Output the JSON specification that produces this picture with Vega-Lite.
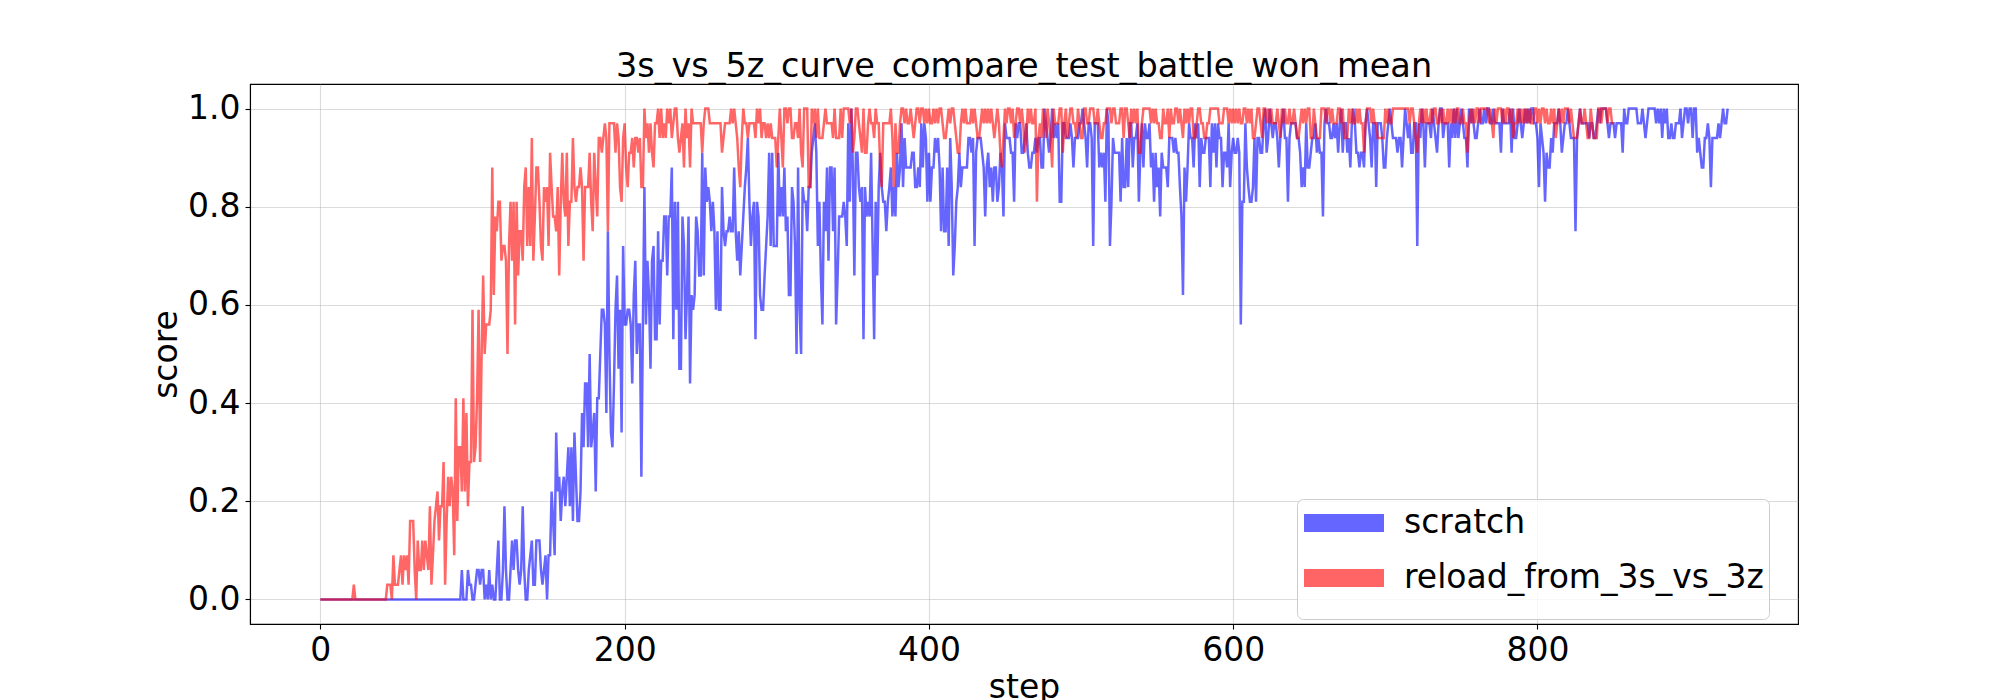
{
"$schema": "https://vega.github.io/schema/vega-lite/v6.json",
"width": 1548, "height": 540,
"autosize": {"type": "none"},
"padding": {"left": 250, "top": 84, "right": 202, "bottom": 76},
"background": "white",
"title": {"text": "3s_vs_5z_curve_compare_test_battle_won_mean", "fontSize": 33.5, "font": "DejaVu Sans", "fontWeight": "normal", "color": "black", "anchor": "middle", "baseline": "alphabetic", "offset": -26},
"config": {
"font": "DejaVu Sans",
"view": {"stroke": "black", "strokeWidth": 1.1},
"axis": {"labelFont": "DejaVu Sans", "labelFontSize": 33, "labelColor": "black", "titleFont": "DejaVu Sans", "titleFontSize": 33, "titleFontWeight": "normal", "titleColor": "black", "domainColor": "black", "domainWidth": 1.1, "tickColor": "black", "tickWidth": 1.1, "tickSize": 5, "labelPadding": 5, "gridColor": "#b0b0b0", "gridOpacity": 0.45, "gridWidth": 1.1}
},
"data": {"values": [
{"step":0,"a":0,"b":0},{"step":1,"a":0,"b":0},{"step":2,"a":0,"b":0},{"step":3,"a":0,"b":0},{"step":4,"a":0,"b":0},{"step":5,"a":0,"b":0},{"step":6,"a":0,"b":0},{"step":7,"a":0,"b":0},{"step":8,"a":0,"b":0},{"step":9,"a":0,"b":0},
{"step":10,"a":0,"b":0},{"step":11,"a":0,"b":0},{"step":12,"a":0,"b":0},{"step":13,"a":0,"b":0},{"step":14,"a":0,"b":0},{"step":15,"a":0,"b":0},{"step":16,"a":0,"b":0},{"step":17,"a":0,"b":0},{"step":18,"a":0,"b":0},{"step":19,"a":0,"b":0},
{"step":20,"a":0,"b":0},{"step":21,"a":0,"b":0},{"step":22,"a":0,"b":0.03},{"step":23,"a":0,"b":0},{"step":24,"a":0,"b":0},{"step":25,"a":0,"b":0},{"step":26,"a":0,"b":0},{"step":27,"a":0,"b":0},{"step":28,"a":0,"b":0},{"step":29,"a":0,"b":0},
{"step":30,"a":0,"b":0},{"step":31,"a":0,"b":0},{"step":32,"a":0,"b":0},{"step":33,"a":0,"b":0},{"step":34,"a":0,"b":0},{"step":35,"a":0,"b":0},{"step":36,"a":0,"b":0},{"step":37,"a":0,"b":0},{"step":38,"a":0,"b":0},{"step":39,"a":0,"b":0},
{"step":40,"a":0,"b":0},{"step":41,"a":0,"b":0},{"step":42,"a":0,"b":0},{"step":43,"a":0,"b":0},{"step":44,"a":0,"b":0.03},{"step":45,"a":0,"b":0.03},{"step":46,"a":0,"b":0.03},{"step":47,"a":0,"b":0},{"step":48,"a":0,"b":0.09},{"step":49,"a":0,"b":0.03},
{"step":50,"a":0,"b":0.03},{"step":51,"a":0,"b":0.03},{"step":52,"a":0,"b":0.06},{"step":53,"a":0,"b":0.09},{"step":54,"a":0,"b":0.03},{"step":55,"a":0,"b":0.09},{"step":56,"a":0,"b":0.06},{"step":57,"a":0,"b":0.09},{"step":58,"a":0,"b":0.03},{"step":59,"a":0,"b":0.16},
{"step":60,"a":0,"b":0.16},{"step":61,"a":0,"b":0.16},{"step":62,"a":0,"b":0.06},{"step":63,"a":0,"b":0},{"step":64,"a":0,"b":0.12},{"step":65,"a":0,"b":0.06},{"step":66,"a":0,"b":0.06},{"step":67,"a":0,"b":0.12},{"step":68,"a":0,"b":0.06},{"step":69,"a":0,"b":0.12},
{"step":70,"a":0,"b":0.09},{"step":71,"a":0,"b":0.06},{"step":72,"a":0,"b":0.19},{"step":73,"a":0,"b":0.03},{"step":74,"a":0,"b":0.09},{"step":75,"a":0,"b":0.16},{"step":76,"a":0,"b":0.19},{"step":77,"a":0,"b":0.22},{"step":78,"a":0,"b":0.12},{"step":79,"a":0,"b":0.19},
{"step":80,"a":0,"b":0.19},{"step":81,"a":0,"b":0.28},{"step":82,"a":0,"b":0.03},{"step":83,"a":0,"b":0.16},{"step":84,"a":0,"b":0.25},{"step":85,"a":0,"b":0.19},{"step":86,"a":0,"b":0.25},{"step":87,"a":0,"b":0.22},{"step":88,"a":0,"b":0.09},{"step":89,"a":0,"b":0.41},
{"step":90,"a":0,"b":0.16},{"step":91,"a":0,"b":0.31},{"step":92,"a":0,"b":0.31},{"step":93,"a":0.06,"b":0.22},{"step":94,"a":0,"b":0.41},{"step":95,"a":0,"b":0.22},{"step":96,"a":0,"b":0.38},{"step":97,"a":0.06,"b":0.19},{"step":98,"a":0.03,"b":0.28},{"step":99,"a":0.03,"b":0.28},
{"step":100,"a":0,"b":0.59},{"step":101,"a":0,"b":0.28},{"step":102,"a":0.03,"b":0.31},{"step":103,"a":0.06,"b":0.41},{"step":104,"a":0.06,"b":0.59},{"step":105,"a":0.03,"b":0.28},{"step":106,"a":0.06,"b":0.5},{"step":107,"a":0.06,"b":0.66},{"step":108,"a":0,"b":0.5},{"step":109,"a":0.03,"b":0.56},
{"step":110,"a":0,"b":0.56},{"step":111,"a":0.06,"b":0.56},{"step":112,"a":0,"b":0.59},{"step":113,"a":0.03,"b":0.88},{"step":114,"a":0,"b":0.62},{"step":115,"a":0,"b":0.78},{"step":116,"a":0.06,"b":0.75},{"step":117,"a":0.12,"b":0.81},{"step":118,"a":0,"b":0.81},{"step":119,"a":0,"b":0.69},
{"step":120,"a":0.06,"b":0.72},{"step":121,"a":0.19,"b":0.72},{"step":122,"a":0.06,"b":0.69},{"step":123,"a":0,"b":0.5},{"step":124,"a":0,"b":0.72},{"step":125,"a":0.06,"b":0.81},{"step":126,"a":0.12,"b":0.69},{"step":127,"a":0.06,"b":0.81},{"step":128,"a":0.12,"b":0.56},{"step":129,"a":0.12,"b":0.81},
{"step":130,"a":0.06,"b":0.66},{"step":131,"a":0.03,"b":0.75},{"step":132,"a":0.06,"b":0.75},{"step":133,"a":0.19,"b":0.69},{"step":134,"a":0.06,"b":0.84},{"step":135,"a":0,"b":0.88},{"step":136,"a":0,"b":0.72},{"step":137,"a":0.06,"b":0.84},{"step":138,"a":0.09,"b":0.72},{"step":139,"a":0.12,"b":0.94},
{"step":140,"a":0.03,"b":0.69},{"step":141,"a":0.03,"b":0.78},{"step":142,"a":0.12,"b":0.88},{"step":143,"a":0.12,"b":0.88},{"step":144,"a":0.12,"b":0.81},{"step":145,"a":0.06,"b":0.72},{"step":146,"a":0.03,"b":0.69},{"step":147,"a":0.06,"b":0.84},{"step":148,"a":0.09,"b":0.81},{"step":149,"a":0,"b":0.84},
{"step":150,"a":0.09,"b":0.72},{"step":151,"a":0.09,"b":0.91},{"step":152,"a":0.22,"b":0.84},{"step":153,"a":0.16,"b":0.78},{"step":154,"a":0.09,"b":0.78},{"step":155,"a":0.34,"b":0.75},{"step":156,"a":0.22,"b":0.84},{"step":157,"a":0.25,"b":0.66},{"step":158,"a":0.16,"b":0.81},{"step":159,"a":0.22,"b":0.91},
{"step":160,"a":0.25,"b":0.81},{"step":161,"a":0.19,"b":0.78},{"step":162,"a":0.25,"b":0.91},{"step":163,"a":0.31,"b":0.72},{"step":164,"a":0.19,"b":0.81},{"step":165,"a":0.31,"b":0.81},{"step":166,"a":0.16,"b":0.94},{"step":167,"a":0.34,"b":0.84},{"step":168,"a":0.25,"b":0.81},{"step":169,"a":0.16,"b":0.84},
{"step":170,"a":0.16,"b":0.84},{"step":171,"a":0.22,"b":0.88},{"step":172,"a":0.38,"b":0.84},{"step":173,"a":0.31,"b":0.69},{"step":174,"a":0.44,"b":0.84},{"step":175,"a":0.44,"b":0.84},{"step":176,"a":0.31,"b":0.84},{"step":177,"a":0.5,"b":0.91},{"step":178,"a":0.31,"b":0.81},{"step":179,"a":0.34,"b":0.75},
{"step":180,"a":0.38,"b":0.91},{"step":181,"a":0.22,"b":0.84},{"step":182,"a":0.41,"b":0.78},{"step":183,"a":0.41,"b":0.94},{"step":184,"a":0.5,"b":0.94},{"step":185,"a":0.59,"b":0.91},{"step":186,"a":0.59,"b":0.94},{"step":187,"a":0.56,"b":0.97},{"step":188,"a":0.38,"b":0.94},{"step":189,"a":0.75,"b":0.75},
{"step":190,"a":0.5,"b":0.97},{"step":191,"a":0.34,"b":0.97},{"step":192,"a":0.31,"b":0.97},{"step":193,"a":0.44,"b":0.97},{"step":194,"a":0.59,"b":0.91},{"step":195,"a":0.66,"b":0.97},{"step":196,"a":0.47,"b":0.94},{"step":197,"a":0.59,"b":0.84},{"step":198,"a":0.34,"b":0.81},{"step":199,"a":0.72,"b":0.94},
{"step":200,"a":0.56,"b":0.97},{"step":201,"a":0.56,"b":0.88},{"step":202,"a":0.59,"b":0.84},{"step":203,"a":0.59,"b":0.91},{"step":204,"a":0.56,"b":0.91},{"step":205,"a":0.44,"b":0.94},{"step":206,"a":0.62,"b":0.88},{"step":207,"a":0.69,"b":0.94},{"step":208,"a":0.5,"b":0.94},{"step":209,"a":0.56,"b":0.91},
{"step":210,"a":0.56,"b":0.94},{"step":211,"a":0.25,"b":0.84},{"step":212,"a":0.56,"b":0.84},{"step":213,"a":0.84,"b":1},{"step":214,"a":0.56,"b":0.94},{"step":215,"a":0.69,"b":0.97},{"step":216,"a":0.62,"b":0.91},{"step":217,"a":0.47,"b":0.97},{"step":218,"a":0.69,"b":0.91},{"step":219,"a":0.72,"b":0.88},
{"step":220,"a":0.53,"b":0.97},{"step":221,"a":0.53,"b":0.97},{"step":222,"a":0.75,"b":1},{"step":223,"a":0.56,"b":0.94},{"step":224,"a":0.69,"b":1},{"step":225,"a":0.69,"b":0.94},{"step":226,"a":0.78,"b":0.97},{"step":227,"a":0.78,"b":0.94},{"step":228,"a":0.66,"b":1},{"step":229,"a":0.78,"b":0.97},
{"step":230,"a":0.78,"b":1},{"step":231,"a":0.88,"b":0.94},{"step":232,"a":0.53,"b":0.97},{"step":233,"a":0.81,"b":1},{"step":234,"a":0.59,"b":1},{"step":235,"a":0.81,"b":0.94},{"step":236,"a":0.47,"b":0.91},{"step":237,"a":0.47,"b":0.94},{"step":238,"a":0.78,"b":0.97},{"step":239,"a":0.72,"b":0.88},
{"step":240,"a":0.53,"b":1},{"step":241,"a":0.62,"b":0.94},{"step":242,"a":0.78,"b":0.97},{"step":243,"a":0.44,"b":0.88},{"step":244,"a":0.62,"b":1},{"step":245,"a":0.59,"b":0.97},{"step":246,"a":0.62,"b":0.97},{"step":247,"a":0.78,"b":0.97},{"step":248,"a":0.75,"b":0.97},{"step":249,"a":0.66,"b":0.97},
{"step":250,"a":0.66,"b":0.97},{"step":251,"a":0.91,"b":0.91},{"step":252,"a":0.66,"b":0.97},{"step":253,"a":0.88,"b":1},{"step":254,"a":0.81,"b":1},{"step":255,"a":0.84,"b":1},{"step":256,"a":0.81,"b":0.97},{"step":257,"a":0.75,"b":0.97},{"step":258,"a":0.81,"b":0.97},{"step":259,"a":0.75,"b":0.97},
{"step":260,"a":0.59,"b":0.97},{"step":261,"a":0.75,"b":0.97},{"step":262,"a":0.59,"b":0.97},{"step":263,"a":0.59,"b":0.97},{"step":264,"a":0.84,"b":0.91},{"step":265,"a":0.75,"b":0.94},{"step":266,"a":0.72,"b":0.97},{"step":267,"a":0.75,"b":0.97},{"step":268,"a":0.75,"b":0.97},{"step":269,"a":0.78,"b":0.97},
{"step":270,"a":0.75,"b":1},{"step":271,"a":0.75,"b":0.97},{"step":272,"a":0.88,"b":1},{"step":273,"a":0.75,"b":0.97},{"step":274,"a":0.69,"b":0.94},{"step":275,"a":0.75,"b":0.88},{"step":276,"a":0.66,"b":0.84},{"step":277,"a":0.72,"b":0.94},{"step":278,"a":0.78,"b":1},{"step":279,"a":0.84,"b":0.97},
{"step":280,"a":0.88,"b":0.97},{"step":281,"a":0.94,"b":0.94},{"step":282,"a":0.81,"b":0.97},{"step":283,"a":0.72,"b":0.97},{"step":284,"a":0.78,"b":0.97},{"step":285,"a":0.81,"b":0.97},{"step":286,"a":0.53,"b":0.94},{"step":287,"a":0.81,"b":1},{"step":288,"a":0.78,"b":0.97},{"step":289,"a":0.62,"b":1},
{"step":290,"a":0.59,"b":0.94},{"step":291,"a":0.59,"b":0.97},{"step":292,"a":0.66,"b":0.97},{"step":293,"a":0.72,"b":0.94},{"step":294,"a":0.78,"b":0.97},{"step":295,"a":0.91,"b":0.94},{"step":296,"a":0.72,"b":0.97},{"step":297,"a":0.91,"b":0.94},{"step":298,"a":0.72,"b":0.94},{"step":299,"a":0.72,"b":0.94},
{"step":300,"a":0.72,"b":0.88},{"step":301,"a":0.91,"b":0.94},{"step":302,"a":0.78,"b":1},{"step":303,"a":0.84,"b":0.94},{"step":304,"a":0.78,"b":0.88},{"step":305,"a":0.88,"b":1},{"step":306,"a":0.75,"b":1},{"step":307,"a":0.78,"b":0.97},{"step":308,"a":0.62,"b":1},{"step":309,"a":0.62,"b":1},
{"step":310,"a":0.84,"b":0.94},{"step":311,"a":0.81,"b":0.94},{"step":312,"a":0.72,"b":0.97},{"step":313,"a":0.5,"b":0.97},{"step":314,"a":0.88,"b":0.94},{"step":315,"a":0.59,"b":1},{"step":316,"a":0.5,"b":0.91},{"step":317,"a":0.84,"b":0.88},{"step":318,"a":0.81,"b":1},{"step":319,"a":0.81,"b":1},
{"step":320,"a":0.75,"b":1},{"step":321,"a":0.84,"b":0.84},{"step":322,"a":0.84,"b":0.84},{"step":323,"a":0.91,"b":1},{"step":324,"a":0.94,"b":0.97},{"step":325,"a":0.97,"b":1},{"step":326,"a":0.91,"b":0.94},{"step":327,"a":0.72,"b":1},{"step":328,"a":0.81,"b":0.94},{"step":329,"a":0.66,"b":0.94},
{"step":330,"a":0.56,"b":0.94},{"step":331,"a":0.81,"b":0.97},{"step":332,"a":0.75,"b":1},{"step":333,"a":0.88,"b":0.97},{"step":334,"a":0.69,"b":0.97},{"step":335,"a":0.88,"b":0.97},{"step":336,"a":0.88,"b":0.97},{"step":337,"a":0.75,"b":0.94},{"step":338,"a":0.88,"b":1},{"step":339,"a":0.56,"b":0.94},
{"step":340,"a":0.66,"b":0.94},{"step":341,"a":0.78,"b":0.94},{"step":342,"a":0.78,"b":1},{"step":343,"a":0.78,"b":0.94},{"step":344,"a":0.81,"b":1},{"step":345,"a":0.78,"b":1},{"step":346,"a":0.72,"b":1},{"step":347,"a":0.97,"b":1},{"step":348,"a":0.81,"b":0.97},{"step":349,"a":1,"b":1},
{"step":350,"a":0.88,"b":0.91},{"step":351,"a":0.66,"b":0.94},{"step":352,"a":0.91,"b":1},{"step":353,"a":0.91,"b":1},{"step":354,"a":0.84,"b":0.97},{"step":355,"a":0.81,"b":0.94},{"step":356,"a":0.84,"b":0.91},{"step":357,"a":0.53,"b":1},{"step":358,"a":0.84,"b":0.91},{"step":359,"a":0.78,"b":0.91},
{"step":360,"a":0.81,"b":0.97},{"step":361,"a":0.78,"b":1},{"step":362,"a":0.91,"b":0.97},{"step":363,"a":0.72,"b":0.97},{"step":364,"a":0.53,"b":0.94},{"step":365,"a":0.81,"b":1},{"step":366,"a":0.66,"b":0.97},{"step":367,"a":0.84,"b":0.97},{"step":368,"a":0.91,"b":0.88},{"step":369,"a":0.84,"b":0.84},
{"step":370,"a":0.81,"b":0.97},{"step":371,"a":0.81,"b":0.97},{"step":372,"a":0.75,"b":0.97},{"step":373,"a":0.81,"b":0.97},{"step":374,"a":0.84,"b":0.97},{"step":375,"a":0.88,"b":1},{"step":376,"a":0.78,"b":0.94},{"step":377,"a":0.84,"b":0.84},{"step":378,"a":0.78,"b":0.97},{"step":379,"a":0.91,"b":0.91},
{"step":380,"a":0.84,"b":0.91},{"step":381,"a":0.88,"b":0.97},{"step":382,"a":0.97,"b":1},{"step":383,"a":0.84,"b":1},{"step":384,"a":0.94,"b":0.97},{"step":385,"a":0.88,"b":1},{"step":386,"a":0.88,"b":0.97},{"step":387,"a":0.88,"b":0.97},{"step":388,"a":0.88,"b":1},{"step":389,"a":0.91,"b":0.97},
{"step":390,"a":0.91,"b":0.94},{"step":391,"a":0.84,"b":0.97},{"step":392,"a":0.84,"b":1},{"step":393,"a":0.88,"b":1},{"step":394,"a":0.84,"b":0.97},{"step":395,"a":0.97,"b":1},{"step":396,"a":0.88,"b":1},{"step":397,"a":0.97,"b":0.97},{"step":398,"a":0.94,"b":1},{"step":399,"a":0.81,"b":0.97},
{"step":400,"a":0.91,"b":1},{"step":401,"a":0.81,"b":0.97},{"step":402,"a":0.88,"b":0.97},{"step":403,"a":0.88,"b":1},{"step":404,"a":0.94,"b":0.97},{"step":405,"a":0.91,"b":1},{"step":406,"a":0.94,"b":0.97},{"step":407,"a":0.88,"b":1},{"step":408,"a":0.75,"b":1},{"step":409,"a":0.88,"b":0.97},
{"step":410,"a":0.75,"b":0.94},{"step":411,"a":0.75,"b":0.94},{"step":412,"a":0.88,"b":0.97},{"step":413,"a":0.72,"b":1},{"step":414,"a":0.94,"b":0.97},{"step":415,"a":0.84,"b":1},{"step":416,"a":0.66,"b":1},{"step":417,"a":0.72,"b":0.97},{"step":418,"a":0.81,"b":0.94},{"step":419,"a":0.84,"b":0.91},
{"step":420,"a":0.91,"b":0.91},{"step":421,"a":0.84,"b":0.97},{"step":422,"a":0.88,"b":1},{"step":423,"a":0.88,"b":0.97},{"step":424,"a":0.88,"b":1},{"step":425,"a":0.88,"b":0.97},{"step":426,"a":0.94,"b":0.97},{"step":427,"a":0.94,"b":0.97},{"step":428,"a":0.91,"b":1},{"step":429,"a":0.94,"b":0.97},
{"step":430,"a":0.72,"b":1},{"step":431,"a":0.91,"b":0.97},{"step":432,"a":0.94,"b":0.94},{"step":433,"a":0.94,"b":0.94},{"step":434,"a":0.94,"b":0.97},{"step":435,"a":0.91,"b":1},{"step":436,"a":0.88,"b":0.97},{"step":437,"a":0.78,"b":1},{"step":438,"a":0.88,"b":0.97},{"step":439,"a":0.91,"b":1},
{"step":440,"a":0.84,"b":0.97},{"step":441,"a":0.88,"b":1},{"step":442,"a":0.81,"b":0.97},{"step":443,"a":0.88,"b":0.94},{"step":444,"a":0.88,"b":0.97},{"step":445,"a":0.81,"b":1},{"step":446,"a":0.84,"b":0.97},{"step":447,"a":0.91,"b":0.91},{"step":448,"a":0.88,"b":0.88},{"step":449,"a":0.78,"b":0.94},
{"step":450,"a":0.97,"b":1},{"step":451,"a":0.94,"b":0.97},{"step":452,"a":0.94,"b":1},{"step":453,"a":0.94,"b":1},{"step":454,"a":0.91,"b":0.97},{"step":455,"a":0.91,"b":1},{"step":456,"a":0.81,"b":0.94},{"step":457,"a":0.97,"b":0.97},{"step":458,"a":0.94,"b":1},{"step":459,"a":0.97,"b":1},
{"step":460,"a":0.97,"b":0.97},{"step":461,"a":0.91,"b":1},{"step":462,"a":0.91,"b":0.97},{"step":463,"a":0.94,"b":0.91},{"step":464,"a":0.97,"b":0.94},{"step":465,"a":0.91,"b":1},{"step":466,"a":0.88,"b":0.97},{"step":467,"a":0.88,"b":1},{"step":468,"a":0.91,"b":0.97},{"step":469,"a":0.91,"b":0.97},
{"step":470,"a":0.94,"b":1},{"step":471,"a":0.91,"b":0.81},{"step":472,"a":0.94,"b":0.94},{"step":473,"a":0.94,"b":0.97},{"step":474,"a":0.88,"b":0.94},{"step":475,"a":0.88,"b":1},{"step":476,"a":1,"b":0.97},{"step":477,"a":0.97,"b":0.94},{"step":478,"a":0.94,"b":1},{"step":479,"a":0.91,"b":0.97},
{"step":480,"a":0.94,"b":0.94},{"step":481,"a":1,"b":0.88},{"step":482,"a":0.94,"b":1},{"step":483,"a":0.97,"b":0.97},{"step":484,"a":0.94,"b":0.97},{"step":485,"a":0.97,"b":0.97},{"step":486,"a":0.81,"b":1},{"step":487,"a":0.81,"b":1},{"step":488,"a":0.97,"b":0.91},{"step":489,"a":0.97,"b":0.97},
{"step":490,"a":0.94,"b":1},{"step":491,"a":0.94,"b":0.94},{"step":492,"a":0.94,"b":0.97},{"step":493,"a":0.97,"b":1},{"step":494,"a":0.94,"b":1},{"step":495,"a":0.88,"b":0.97},{"step":496,"a":0.94,"b":0.97},{"step":497,"a":0.94,"b":0.94},{"step":498,"a":0.94,"b":1},{"step":499,"a":0.97,"b":0.97},
{"step":500,"a":0.97,"b":0.94},{"step":501,"a":1,"b":0.94},{"step":502,"a":0.97,"b":1},{"step":503,"a":0.94,"b":1},{"step":504,"a":0.88,"b":0.97},{"step":505,"a":0.97,"b":0.97},{"step":506,"a":0.97,"b":1},{"step":507,"a":0.94,"b":1},{"step":508,"a":0.72,"b":1},{"step":509,"a":0.97,"b":0.97},
{"step":510,"a":0.97,"b":0.97},{"step":511,"a":0.97,"b":1},{"step":512,"a":0.88,"b":0.97},{"step":513,"a":0.91,"b":0.94},{"step":514,"a":0.88,"b":0.94},{"step":515,"a":0.91,"b":0.97},{"step":516,"a":0.81,"b":0.97},{"step":517,"a":1,"b":1},{"step":518,"a":0.97,"b":1},{"step":519,"a":0.72,"b":1},
{"step":520,"a":0.81,"b":0.97},{"step":521,"a":0.94,"b":1},{"step":522,"a":0.91,"b":1},{"step":523,"a":0.91,"b":0.97},{"step":524,"a":0.91,"b":0.97},{"step":525,"a":0.91,"b":0.97},{"step":526,"a":0.81,"b":1},{"step":527,"a":0.94,"b":1},{"step":528,"a":0.84,"b":0.94},{"step":529,"a":0.84,"b":1},
{"step":530,"a":0.94,"b":1},{"step":531,"a":0.84,"b":0.97},{"step":532,"a":0.97,"b":0.94},{"step":533,"a":0.97,"b":1},{"step":534,"a":0.88,"b":0.97},{"step":535,"a":0.94,"b":1},{"step":536,"a":0.94,"b":0.97},{"step":537,"a":0.97,"b":1},{"step":538,"a":0.81,"b":0.91},{"step":539,"a":0.91,"b":0.91},
{"step":540,"a":0.97,"b":0.97},{"step":541,"a":0.88,"b":1},{"step":542,"a":0.97,"b":1},{"step":543,"a":0.94,"b":1},{"step":544,"a":0.94,"b":1},{"step":545,"a":0.97,"b":1},{"step":546,"a":0.88,"b":0.97},{"step":547,"a":0.91,"b":1},{"step":548,"a":0.81,"b":0.97},{"step":549,"a":0.91,"b":1},
{"step":550,"a":0.84,"b":0.97},{"step":551,"a":0.88,"b":0.97},{"step":552,"a":0.78,"b":0.94},{"step":553,"a":0.91,"b":0.94},{"step":554,"a":0.88,"b":1},{"step":555,"a":0.88,"b":0.97},{"step":556,"a":0.88,"b":0.97},{"step":557,"a":0.84,"b":1},{"step":558,"a":0.94,"b":0.94},{"step":559,"a":0.94,"b":1},
{"step":560,"a":0.94,"b":0.97},{"step":561,"a":0.91,"b":0.97},{"step":562,"a":0.94,"b":1},{"step":563,"a":0.91,"b":1},{"step":564,"a":0.91,"b":0.97},{"step":565,"a":0.84,"b":1},{"step":566,"a":0.78,"b":0.97},{"step":567,"a":0.62,"b":0.94},{"step":568,"a":0.88,"b":1},{"step":569,"a":0.81,"b":0.97},
{"step":570,"a":0.88,"b":1},{"step":571,"a":0.97,"b":0.97},{"step":572,"a":0.94,"b":1},{"step":573,"a":0.94,"b":1},{"step":574,"a":0.88,"b":0.94},{"step":575,"a":0.97,"b":0.94},{"step":576,"a":0.94,"b":0.97},{"step":577,"a":0.97,"b":1},{"step":578,"a":0.84,"b":1},{"step":579,"a":0.94,"b":0.97},
{"step":580,"a":0.91,"b":0.97},{"step":581,"a":0.91,"b":0.94},{"step":582,"a":0.94,"b":0.94},{"step":583,"a":0.94,"b":0.97},{"step":584,"a":0.94,"b":0.97},{"step":585,"a":0.84,"b":1},{"step":586,"a":0.97,"b":1},{"step":587,"a":0.91,"b":1},{"step":588,"a":0.97,"b":1},{"step":589,"a":0.88,"b":1},
{"step":590,"a":0.97,"b":1},{"step":591,"a":0.94,"b":0.97},{"step":592,"a":0.94,"b":0.97},{"step":593,"a":0.84,"b":0.97},{"step":594,"a":0.91,"b":1},{"step":595,"a":0.91,"b":1},{"step":596,"a":0.88,"b":1},{"step":597,"a":0.97,"b":0.97},{"step":598,"a":0.84,"b":1},{"step":599,"a":0.91,"b":0.97},
{"step":600,"a":0.94,"b":1},{"step":601,"a":0.91,"b":0.97},{"step":602,"a":0.91,"b":1},{"step":603,"a":0.94,"b":0.97},{"step":604,"a":0.91,"b":1},{"step":605,"a":0.56,"b":0.97},{"step":606,"a":0.81,"b":0.97},{"step":607,"a":0.81,"b":1},{"step":608,"a":0.97,"b":1},{"step":609,"a":0.88,"b":0.97},
{"step":610,"a":0.84,"b":1},{"step":611,"a":0.81,"b":0.97},{"step":612,"a":0.81,"b":1},{"step":613,"a":0.84,"b":0.94},{"step":614,"a":0.94,"b":0.94},{"step":615,"a":0.81,"b":0.97},{"step":616,"a":0.94,"b":1},{"step":617,"a":0.94,"b":1},{"step":618,"a":0.91,"b":0.97},{"step":619,"a":0.91,"b":0.94},
{"step":620,"a":0.97,"b":1},{"step":621,"a":1,"b":1},{"step":622,"a":0.91,"b":0.97},{"step":623,"a":0.94,"b":1},{"step":624,"a":1,"b":0.97},{"step":625,"a":0.97,"b":1},{"step":626,"a":0.94,"b":0.97},{"step":627,"a":0.97,"b":0.97},{"step":628,"a":0.97,"b":0.97},{"step":629,"a":0.94,"b":1},
{"step":630,"a":0.88,"b":0.97},{"step":631,"a":0.94,"b":0.94},{"step":632,"a":0.97,"b":1},{"step":633,"a":1,"b":0.97},{"step":634,"a":0.94,"b":1},{"step":635,"a":0.94,"b":0.97},{"step":636,"a":0.81,"b":0.97},{"step":637,"a":0.94,"b":1},{"step":638,"a":0.97,"b":0.97},{"step":639,"a":0.97,"b":0.97},
{"step":640,"a":0.97,"b":1},{"step":641,"a":0.97,"b":0.97},{"step":642,"a":0.94,"b":0.94},{"step":643,"a":0.94,"b":0.94},{"step":644,"a":0.91,"b":0.97},{"step":645,"a":0.84,"b":1},{"step":646,"a":0.88,"b":0.97},{"step":647,"a":0.84,"b":1},{"step":648,"a":0.97,"b":0.97},{"step":649,"a":0.88,"b":1},
{"step":650,"a":0.88,"b":1},{"step":651,"a":0.91,"b":0.94},{"step":652,"a":0.94,"b":0.94},{"step":653,"a":0.94,"b":1},{"step":654,"a":0.97,"b":0.97},{"step":655,"a":0.91,"b":0.94},{"step":656,"a":0.94,"b":0.94},{"step":657,"a":0.91,"b":0.94},{"step":658,"a":0.91,"b":1},{"step":659,"a":0.78,"b":1},
{"step":660,"a":0.97,"b":1},{"step":661,"a":1,"b":0.97},{"step":662,"a":0.97,"b":1},{"step":663,"a":0.97,"b":1},{"step":664,"a":0.94,"b":0.97},{"step":665,"a":0.94,"b":1},{"step":666,"a":0.97,"b":0.97},{"step":667,"a":0.94,"b":0.97},{"step":668,"a":0.97,"b":0.97},{"step":669,"a":0.91,"b":1},
{"step":670,"a":0.97,"b":1},{"step":671,"a":1,"b":0.97},{"step":672,"a":0.91,"b":1},{"step":673,"a":0.97,"b":0.94},{"step":674,"a":0.97,"b":0.94},{"step":675,"a":0.91,"b":0.94},{"step":676,"a":0.94,"b":1},{"step":677,"a":0.88,"b":0.97},{"step":678,"a":0.97,"b":1},{"step":679,"a":1,"b":0.97},
{"step":680,"a":0.97,"b":0.97},{"step":681,"a":0.91,"b":1},{"step":682,"a":0.91,"b":0.97},{"step":683,"a":0.88,"b":1},{"step":684,"a":0.91,"b":0.97},{"step":685,"a":0.91,"b":0.97},{"step":686,"a":0.88,"b":0.91},{"step":687,"a":0.97,"b":0.97},{"step":688,"a":1,"b":1},{"step":689,"a":0.97,"b":1},
{"step":690,"a":0.94,"b":1},{"step":691,"a":0.88,"b":0.97},{"step":692,"a":0.97,"b":1},{"step":693,"a":0.97,"b":0.97},{"step":694,"a":0.84,"b":0.97},{"step":695,"a":0.97,"b":0.94},{"step":696,"a":0.97,"b":0.94},{"step":697,"a":0.97,"b":0.94},{"step":698,"a":0.94,"b":0.94},{"step":699,"a":0.88,"b":0.94},
{"step":700,"a":0.88,"b":1},{"step":701,"a":0.94,"b":0.97},{"step":702,"a":0.97,"b":1},{"step":703,"a":1,"b":0.97},{"step":704,"a":0.97,"b":0.97},{"step":705,"a":0.94,"b":1},{"step":706,"a":0.94,"b":1},{"step":707,"a":0.94,"b":1},{"step":708,"a":0.91,"b":1},{"step":709,"a":0.94,"b":1},
{"step":710,"a":0.94,"b":1},{"step":711,"a":0.88,"b":1},{"step":712,"a":0.94,"b":1},{"step":713,"a":1,"b":1},{"step":714,"a":0.97,"b":1},{"step":715,"a":0.94,"b":1},{"step":716,"a":0.97,"b":0.97},{"step":717,"a":0.91,"b":1},{"step":718,"a":0.91,"b":1},{"step":719,"a":0.97,"b":0.97},
{"step":720,"a":0.97,"b":0.94},{"step":721,"a":0.72,"b":0.91},{"step":722,"a":0.97,"b":0.97},{"step":723,"a":0.94,"b":1},{"step":724,"a":1,"b":0.97},{"step":725,"a":0.97,"b":1},{"step":726,"a":0.88,"b":0.97},{"step":727,"a":0.97,"b":1},{"step":728,"a":0.97,"b":0.97},{"step":729,"a":0.97,"b":0.97},
{"step":730,"a":0.94,"b":1},{"step":731,"a":1,"b":0.97},{"step":732,"a":0.97,"b":1},{"step":733,"a":0.94,"b":1},{"step":734,"a":0.91,"b":0.97},{"step":735,"a":0.97,"b":0.97},{"step":736,"a":1,"b":1},{"step":737,"a":1,"b":0.97},{"step":738,"a":0.94,"b":1},{"step":739,"a":0.97,"b":0.97},
{"step":740,"a":0.97,"b":0.97},{"step":741,"a":0.97,"b":1},{"step":742,"a":0.88,"b":0.97},{"step":743,"a":0.97,"b":1},{"step":744,"a":0.94,"b":0.97},{"step":745,"a":1,"b":1},{"step":746,"a":0.94,"b":0.97},{"step":747,"a":1,"b":1},{"step":748,"a":0.94,"b":1},{"step":749,"a":0.97,"b":0.97},
{"step":750,"a":1,"b":0.97},{"step":751,"a":0.97,"b":1},{"step":752,"a":0.94,"b":0.97},{"step":753,"a":0.94,"b":0.97},{"step":754,"a":0.88,"b":0.91},{"step":755,"a":1,"b":0.97},{"step":756,"a":0.97,"b":1},{"step":757,"a":1,"b":0.97},{"step":758,"a":0.97,"b":1},{"step":759,"a":0.94,"b":0.97},
{"step":760,"a":0.94,"b":1},{"step":761,"a":0.97,"b":1},{"step":762,"a":1,"b":0.97},{"step":763,"a":0.97,"b":1},{"step":764,"a":0.97,"b":1},{"step":765,"a":1,"b":1},{"step":766,"a":0.97,"b":1},{"step":767,"a":1,"b":1},{"step":768,"a":1,"b":0.97},{"step":769,"a":0.97,"b":1},
{"step":770,"a":0.97,"b":0.97},{"step":771,"a":1,"b":0.94},{"step":772,"a":0.97,"b":1},{"step":773,"a":0.97,"b":0.97},{"step":774,"a":0.97,"b":1},{"step":775,"a":0.97,"b":1},{"step":776,"a":0.91,"b":1},{"step":777,"a":1,"b":0.97},{"step":778,"a":0.97,"b":1},{"step":779,"a":0.97,"b":0.97},
{"step":780,"a":0.97,"b":1},{"step":781,"a":0.97,"b":1},{"step":782,"a":1,"b":0.97},{"step":783,"a":0.91,"b":1},{"step":784,"a":1,"b":0.94},{"step":785,"a":0.94,"b":0.97},{"step":786,"a":0.94,"b":0.97},{"step":787,"a":0.97,"b":1},{"step":788,"a":1,"b":0.97},{"step":789,"a":0.97,"b":1},
{"step":790,"a":0.94,"b":0.97},{"step":791,"a":0.97,"b":1},{"step":792,"a":1,"b":0.97},{"step":793,"a":0.97,"b":1},{"step":794,"a":1,"b":0.97},{"step":795,"a":0.97,"b":1},{"step":796,"a":1,"b":0.97},{"step":797,"a":1,"b":0.97},{"step":798,"a":0.97,"b":1},{"step":799,"a":0.97,"b":1},
{"step":800,"a":0.94,"b":0.97},{"step":801,"a":0.84,"b":1},{"step":802,"a":0.97,"b":0.97},{"step":803,"a":0.94,"b":1},{"step":804,"a":0.91,"b":1},{"step":805,"a":0.81,"b":0.97},{"step":806,"a":0.91,"b":1},{"step":807,"a":0.88,"b":0.97},{"step":808,"a":0.88,"b":0.97},{"step":809,"a":0.94,"b":1},
{"step":810,"a":0.91,"b":0.97},{"step":811,"a":0.97,"b":1},{"step":812,"a":0.97,"b":0.94},{"step":813,"a":0.97,"b":0.97},{"step":814,"a":1,"b":1},{"step":815,"a":0.97,"b":0.97},{"step":816,"a":0.91,"b":1},{"step":817,"a":0.94,"b":0.97},{"step":818,"a":0.97,"b":1},{"step":819,"a":0.97,"b":1},
{"step":820,"a":1,"b":1},{"step":821,"a":0.97,"b":0.97},{"step":822,"a":0.94,"b":1},{"step":823,"a":0.94,"b":0.97},{"step":824,"a":0.94,"b":0.94},{"step":825,"a":0.75,"b":0.94},{"step":826,"a":0.94,"b":0.94},{"step":827,"a":0.97,"b":0.97},{"step":828,"a":1,"b":1},{"step":829,"a":0.97,"b":0.97},
{"step":830,"a":0.97,"b":0.97},{"step":831,"a":0.97,"b":1},{"step":832,"a":0.97,"b":0.97},{"step":833,"a":0.97,"b":0.94},{"step":834,"a":0.94,"b":0.94},{"step":835,"a":0.97,"b":1},{"step":836,"a":0.97,"b":0.97},{"step":837,"a":0.94,"b":0.94},{"step":838,"a":0.94,"b":0.94},{"step":839,"a":0.97,"b":0.94},
{"step":840,"a":1,"b":1},{"step":841,"a":0.97,"b":1},{"step":842,"a":1,"b":0.97},{"step":843,"a":1,"b":1},{"step":844,"a":1,"b":1},{"step":845,"a":1,"b":1},{"step":846,"a":0.97,"b":0.97},{"step":847,"a":0.94,"b":1},{"step":848,"a":0.97,"b":1},{"step":849,"a":0.97,"b":0.97},
{"step":850,"a":0.97,"b":0.97},{"step":851,"a":0.94},{"step":852,"a":0.97},{"step":853,"a":0.97},{"step":854,"a":0.97},{"step":855,"a":0.97},{"step":856,"a":0.91},{"step":857,"a":1},{"step":858,"a":0.97},{"step":859,"a":0.97},
{"step":860,"a":1},{"step":861,"a":1},{"step":862,"a":1},{"step":863,"a":1},{"step":864,"a":1},{"step":865,"a":1},{"step":866,"a":0.97},{"step":867,"a":0.97},{"step":868,"a":0.97},{"step":869,"a":1},
{"step":870,"a":0.97},{"step":871,"a":0.94},{"step":872,"a":0.97},{"step":873,"a":1},{"step":874,"a":1},{"step":875,"a":1},{"step":876,"a":1},{"step":877,"a":1},{"step":878,"a":0.97},{"step":879,"a":1},
{"step":880,"a":0.97},{"step":881,"a":1},{"step":882,"a":0.94},{"step":883,"a":1},{"step":884,"a":0.97},{"step":885,"a":1},{"step":886,"a":0.94},{"step":887,"a":0.94},{"step":888,"a":0.97},{"step":889,"a":0.94},
{"step":890,"a":0.94},{"step":891,"a":0.97},{"step":892,"a":0.97},{"step":893,"a":0.97},{"step":894,"a":1},{"step":895,"a":0.94},{"step":896,"a":0.97},{"step":897,"a":1},{"step":898,"a":1},{"step":899,"a":0.97},
{"step":900,"a":1},{"step":901,"a":1},{"step":902,"a":0.94},{"step":903,"a":1},{"step":904,"a":1},{"step":905,"a":0.91},{"step":906,"a":0.94},{"step":907,"a":0.91},{"step":908,"a":0.88},{"step":909,"a":0.88},
{"step":910,"a":0.94},{"step":911,"a":0.94},{"step":912,"a":0.97},{"step":913,"a":0.94},{"step":914,"a":0.84},{"step":915,"a":0.94},{"step":916,"a":0.94},{"step":917,"a":0.94},{"step":918,"a":0.94},{"step":919,"a":0.97},
{"step":920,"a":0.94},{"step":921,"a":0.97},{"step":922,"a":1},{"step":923,"a":0.97},{"step":924,"a":0.97},{"step":925,"a":1}
]},
"encoding": {
"x": {"field": "step", "type": "quantitative", "scale": {"domain": [-46.25, 971.25], "nice": false, "zero": false}, "axis": {"values": [0, 200, 400, 600, 800], "format": "d", "title": "step", "titleY": 73, "titleBaseline": "alphabetic", "labelFlush": false, "grid": true}}
},
"layer": [
{"mark": {"type": "line", "strokeWidth": 2.5, "opacity": 0.6, "clip": true},
"encoding": {
"y": {"field": "a", "type": "quantitative", "scale": {"domain": [-0.05, 1.05], "nice": false, "zero": false}, "axis": {"values": [0, 0.2, 0.4, 0.6, 0.8, 1], "format": ".1f", "title": "score", "titleX": -84, "titleY": 270, "titleAngle": -90, "titleBaseline": "middle", "titleAlign": "center", "grid": true}},
"color": {"datum": "scratch", "type": "nominal", "scale": {"domain": ["scratch", "reload_from_3s_vs_3z"], "range": ["#0000ff", "#ff0000"]},
"legend": {"title": null, "orient": "none", "legendX": 1047, "legendY": 415, "symbolType": "M-1.7,0L6.3,0", "symbolSize": 400, "symbolStrokeWidth": 18, "symbolOpacity": 0.5, "labelFontSize": 33, "labelFont": "DejaVu Sans", "labelColor": "black", "labelOffset": 64, "rowPadding": -19, "padding": 5, "strokeColor": "#cccccc", "fillColor": "rgba(255,255,255,0.8)", "cornerRadius": 6, "labelLimit": 0}}
}},
{"mark": {"type": "line", "strokeWidth": 2.5, "opacity": 0.6, "clip": true},
"encoding": {
"y": {"field": "b", "type": "quantitative", "scale": {"domain": [-0.05, 1.05], "nice": false, "zero": false}, "axis": {"values": [0, 0.2, 0.4, 0.6, 0.8, 1], "format": ".1f", "title": "score", "titleX": -84, "titleY": 270, "titleAngle": -90, "titleBaseline": "middle", "titleAlign": "center", "grid": true}},
"color": {"datum": "reload_from_3s_vs_3z", "type": "nominal"}
}}
]
}
